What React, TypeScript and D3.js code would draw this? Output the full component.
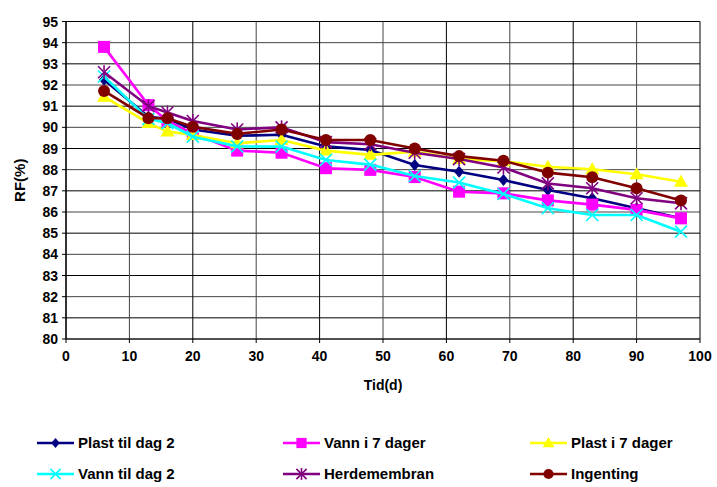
import React from "react";
import * as d3 from "d3";

const days = [6, 13, 16, 20, 27, 34, 41, 48, 55, 62, 69, 76, 83, 90, 97];
const plastTilDag2 = [92.25, 90.5, 90.4, 89.9, 89.6, 89.65, 89.1, 88.93, 88.22, 87.9, 87.51, 87.04, 86.65, 86.18, 85.7];
const vannI7Dager = [93.8, 91.05, 90.3, 89.7, 88.9, 88.8, 88.07, 87.99, 87.65, 86.96, 86.88, 86.55, 86.35, 86.1, 85.7];
const plastI7Dager = [91.45, 90.2, 89.8, 89.64, 89.25, 89.4, 88.9, 88.7, 88.85, 88.5, 88.4, 88.14, 88.02, 87.78, 87.43];
const vannTilDag2 = [92.4, 90.4, 90.2, 89.56, 89.1, 89.09, 88.46, 88.24, 87.7, 87.39, 86.85, 86.18, 85.86, 85.86, 85.07];
const herdemembran = [92.6, 91.0, 90.7, 90.3, 89.9, 90.0, 89.3, 89.2, 88.8, 88.5, 88.1, 87.35, 87.12, 86.65, 86.41];
const ingenting = [91.72, 90.43, 90.43, 90.03, 89.69, 89.9, 89.4, 89.4, 89.0, 88.64, 88.42, 87.86, 87.64, 87.12, 86.54];

const seriesNames = ["Plast til dag 2", "Vann i 7 dager", "Plast i 7 dager", "Vann til dag 2", "Herdemembran", "Ingenting"];
const seriesValues = [plastTilDag2, vannI7Dager, plastI7Dager, vannTilDag2, herdemembran, ingenting];
const seriesColors = ["#000080", "#FF00FF", "#FFFF00", "#00FFFF", "#800080", "#800000"];
const seriesMarkers = ["diamond", "square", "triangle", "x", "star", "circle"];

const xTicks = [0, 10, 20, 30, 40, 50, 60, 70, 80, 90, 100];
const yTicks = d3.range(80, 96, 1);

const W = 717, H = 487;
const left = 66, right = 700, top = 21.5, bottom = 339;
const FONT = "'Liberation Sans', Arial, sans-serif";

function Marker({ type, x, y, color, s = 1 }: { type: string; x: number; y: number; color: string; s?: number }) {
  switch (type) {
    case "diamond":
      return <path d={`M${x},${y - 6 * s}L${x + 5 * s},${y}L${x},${y + 6 * s}L${x - 5 * s},${y}Z`} fill={color} />;
    case "square":
      return <rect x={x - 6 * s} y={y - 6 * s} width={12 * s} height={12 * s} fill={color} />;
    case "triangle":
      return <path d={`M${x},${y - 7 * s}L${x + 7 * s},${y + 5 * s}L${x - 7 * s},${y + 5 * s}Z`} fill={color} />;
    case "x":
      return (
        <g stroke={color} strokeWidth={1.6}>
          <line x1={x - 6 * s} y1={y - 6 * s} x2={x + 6 * s} y2={y + 6 * s} />
          <line x1={x - 6 * s} y1={y + 6 * s} x2={x + 6 * s} y2={y - 6 * s} />
        </g>
      );
    case "star":
      return (
        <g stroke={color} strokeWidth={1.6}>
          <line x1={x - 6 * s} y1={y - 6 * s} x2={x + 6 * s} y2={y + 6 * s} />
          <line x1={x - 6 * s} y1={y + 6 * s} x2={x + 6 * s} y2={y - 6 * s} />
          <line x1={x} y1={y - 7 * s} x2={x} y2={y + 7 * s} />
        </g>
      );
    default:
      return <circle cx={x} cy={y} r={6 * s} fill={color} />;
  }
}

export default function App() {
  const xScale = d3.scaleLinear().domain([0, 100]).range([left, right]);
  const yScale = d3.scaleLinear().domain([80, 95]).range([bottom, top]);
  const line = d3
    .line<[number, number]>()
    .x((d) => xScale(d[0]))
    .y((d) => yScale(d[1]));

  const legendCols = [37, 283, 530];
  const legendRows = [443, 474];

  return (
    <svg width={W} height={H} style={{ position: "absolute", left: 0, top: 0, background: "#fff" }} fontFamily={FONT}>
      <rect x={0} y={0} width={W} height={H} fill="#fff" />
      {/* grid */}
      {yTicks.map((t) => (
        <line key={"gy" + t} x1={left} x2={right} y1={yScale(t)} y2={yScale(t)} stroke={t % 2 ? "#000" : "#444"} strokeWidth={1} />
      ))}
      {xTicks.map((t) => (
        <line key={"gx" + t} x1={xScale(t)} x2={xScale(t)} y1={top} y2={bottom} stroke={t % 20 ? "#444" : "#000"} strokeWidth={1} />
      ))}
      {/* axes */}
      <line x1={left} x2={left} y1={top} y2={bottom} stroke="#000" strokeWidth={1.2} />
      <line x1={left} x2={right} y1={bottom} y2={bottom} stroke="#000" strokeWidth={1.2} />
      {yTicks.map((t) => (
        <g key={"yt" + t}>
          <line x1={left - 4} x2={left} y1={yScale(t)} y2={yScale(t)} stroke="#000" />
          <text x={left - 8} y={yScale(t)} dy="0.36em" textAnchor="end" fontSize={14} fontWeight="bold">
            {t}
          </text>
        </g>
      ))}
      {xTicks.map((t) => (
        <g key={"xt" + t}>
          <line x1={xScale(t)} x2={xScale(t)} y1={bottom} y2={bottom + 4} stroke="#000" />
          <text x={xScale(t)} y={bottom + 22} textAnchor="middle" fontSize={14} fontWeight="bold">
            {t}
          </text>
        </g>
      ))}
      <text x={(left + right) / 2} y={390} textAnchor="middle" fontSize={14} fontWeight="bold">
        Tid(d)
      </text>
      <text transform={`translate(25,${(top + bottom) / 2}) rotate(-90)`} textAnchor="middle" fontSize={15} fontWeight="bold">
        RF(%)
      </text>
      {/* series */}
      {seriesValues.map((vals, i) => {
        const pts = days.map((d, j) => [d, vals[j]] as [number, number]);
        return (
          <g key={"s" + i}>
            <path d={line(pts) || ""} fill="none" stroke={seriesColors[i]} strokeWidth={2.6} />
            {pts.map((p, j) => (
              <Marker key={j} type={seriesMarkers[i]} x={xScale(p[0])} y={yScale(p[1])} color={seriesColors[i]} />
            ))}
          </g>
        );
      })}
      {/* legend */}
      {seriesNames.map((name, i) => {
        const cx = legendCols[i % 3];
        const cy = legendRows[Math.floor(i / 3)];
        return (
          <g key={"l" + i}>
            <line x1={cx} x2={cx + 37} y1={cy} y2={cy} stroke={seriesColors[i]} strokeWidth={2.6} />
            <Marker type={seriesMarkers[i]} x={cx + 18.5} y={cy} color={seriesColors[i]} s={0.85} />
            <text x={cx + 41} y={cy} dy="0.36em" fontSize={15} fontWeight="bold">
              {name}
            </text>
          </g>
        );
      })}
    </svg>
  );
}
